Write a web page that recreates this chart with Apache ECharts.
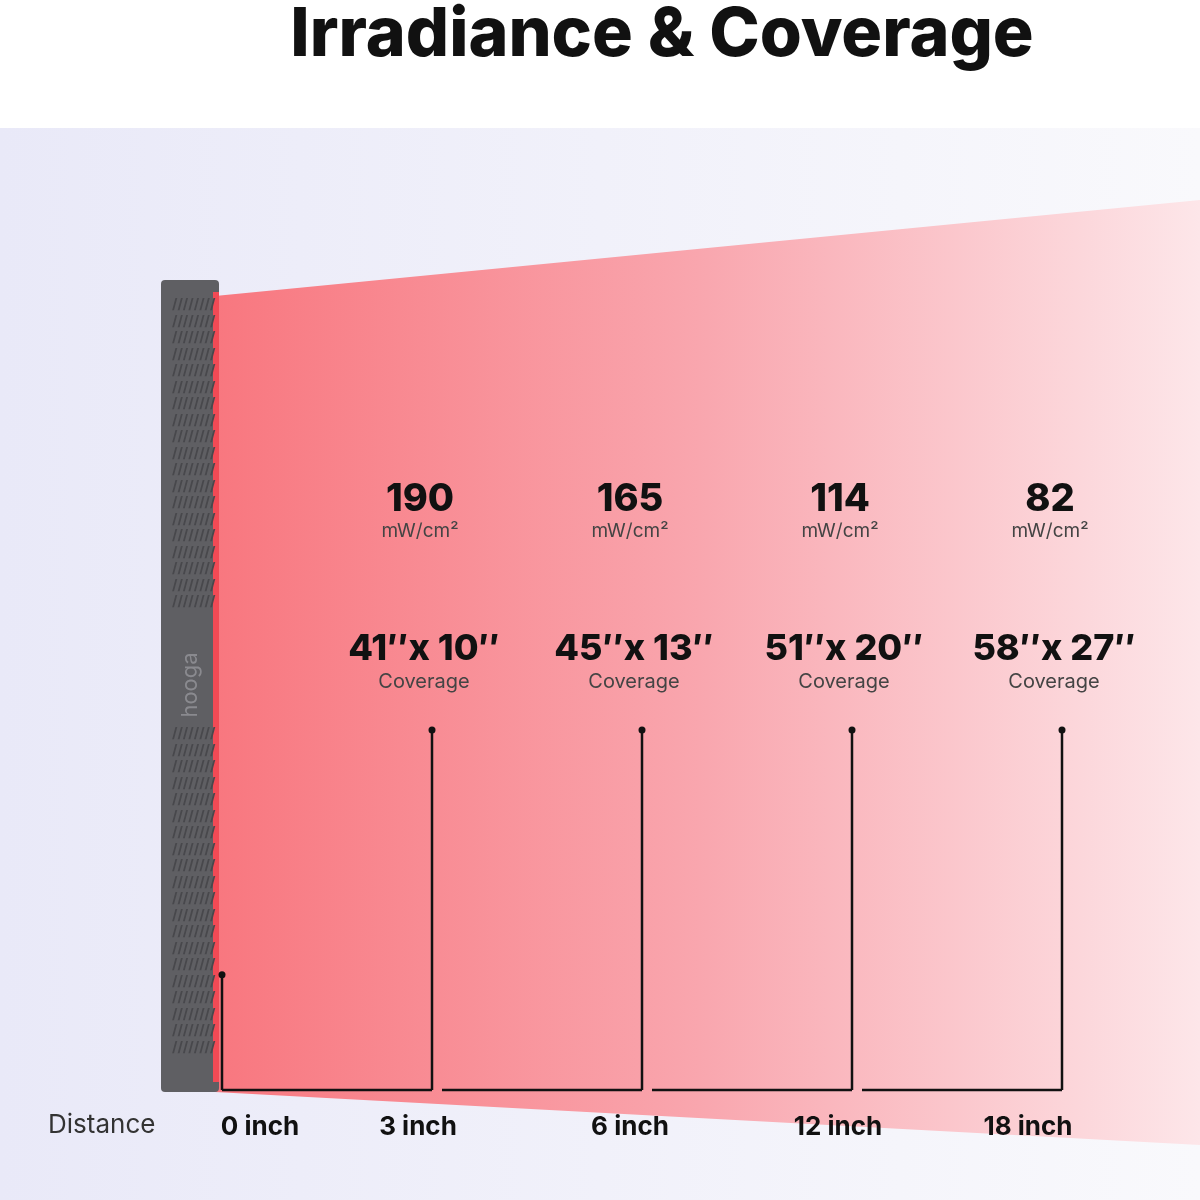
<!DOCTYPE html>
<html><head><meta charset="utf-8">
<script src="https://cdn.jsdelivr.net/npm/echarts@6/dist/echarts.min.js"></script>
<style>html,body{margin:0;padding:0;background:#fff}#c{width:1200px;height:1200px}</style>
</head><body><div id="c"></div>
<script>
// distances along the bottom
const distances = ['0 inch', '3 inch', '6 inch', '12 inch', '18 inch']
// irradiance, mW/cm²
const irradiance = [null, 190, 165, 114, 82]
// coverage area text
const coverage = ['', '41″x 10″', '45″x 13″', '51″x 20″', '58″x 27″']
// marker line height (hidden y scale 0..100)
const markerTop = [12, 37.5, 37.5, 37.5, 37.5]

const chart = echarts.init(document.getElementById('c'))
const FONT = 'Inter'

// label nudges (left, right padding) so labels sit as in the picture
const labelPad = [[76, 0], [0, 28], [0, 24], [0, 28], [0, 68]]
const labelRich = {}
labelPad.forEach((p, i) => {
  labelRich['l' + i] = { padding: [0, p[1], 0, p[0]], color: '#111', fontSize: 26, fontWeight: 700, fontFamily: FONT }
})

const devicePattern = []
for (let i = 0; i < 46; i++) {
  if (i >= 19 && i <= 25) continue
  devicePattern.push({
    type: 'text', z: 3, x: 172, y: 298 + i * 16.5,
    style: { text: '////////', fill: '#48484c', font: 'bold 14px ' + FONT }
  })
}

const option = {
  animation: false,
  grid: { left: 117, right: 33, top: 130, bottom: 110 },
  xAxis: {
    type: 'category', data: distances, boundaryGap: true, z: 30,
    axisLine: { show: false }, axisTick: { show: false },
    axisLabel: { margin: 24, rich: labelRich,
      formatter: (v, i) => '{l' + i + '|' + v + '}' }
  },
  yAxis: { type: 'value', min: 0, max: 100, show: false },
  graphic: [
    { type: 'rect', z: 0, shape: { x: 0, y: 128, width: 1200, height: 1072 },
      style: { fill: new echarts.graphic.LinearGradient(0, 0, 1, 0, [
        { offset: 0, color: '#e9e9f8' }, { offset: 1, color: '#f9f9fc' }]) } },
    { type: 'polygon', z: 1, shape: { points: [[215, 296], [1200, 200], [1200, 1145], [215, 1092]] },
      style: { fill: new echarts.graphic.LinearGradient(0, 0, 1, 0, [
        { offset: 0, color: '#f8777f' }, { offset: 0.5, color: '#f9a7af' },
        { offset: 1, color: '#fde6e9' }]) } },
    { type: 'rect', z: 2, shape: { x: 161, y: 280, width: 58, height: 812, r: 4 },
      style: { fill: '#5f5f63' } },
    { type: 'rect', z: 2, shape: { x: 213, y: 292, width: 6, height: 790 },
      style: { fill: '#f24a55' } },
    { type: 'text', z: 3, x: 190, y: 685, rotation: Math.PI / 2, origin: [0, 0],
      style: { text: 'hooga', fill: '#8a8a8f', font: '22px ' + FONT, align: 'center', verticalAlign: 'middle' } },
    ...devicePattern,
    { type: 'text', z: 3, x: 662, y: 36,
      style: { text: 'Irradiance & Coverage', fill: '#111', font: '800 68px ' + FONT, align: 'center', verticalAlign: 'middle' } },
    { type: 'text', z: 3, x: 48, y: 1112,
      style: { text: 'Distance', fill: '#333', font: '26px ' + FONT } }
  ],
  series: [{
    type: 'custom', z: 10,
    data: distances.map((d, i) => [i, markerTop[i]]),
    renderItem: (params, api) => {
      const i = api.value(0)
      const top = api.coord([i, api.value(1)])
      const base = api.coord([i, 0])
      const kids = [
        { type: 'line', shape: { x1: top[0], y1: top[1], x2: base[0], y2: base[1] },
          style: { stroke: '#111', lineWidth: 2.5 } },
        { type: 'circle', shape: { cx: top[0], cy: top[1], r: 3.5 }, style: { fill: '#111' } }
      ]
      if (i > 0) {
        const prev = api.coord([i - 1, 0])
        kids.push({ type: 'line', shape: { x1: prev[0] + (i > 1 ? 10 : 0), y1: base[1], x2: base[0], y2: base[1] },
          style: { stroke: '#111', lineWidth: 2.5 } })
        const irr = api.coord([i, 61.5])
        const cov = api.coord([i, 46])
        kids.push(
          { type: 'text', style: { text: String(irradiance[i]), x: irr[0] - 12, y: irr[1], align: 'center', verticalAlign: 'middle', fill: '#111', font: '800 38px ' + FONT } },
          { type: 'text', style: { text: 'mW/cm²', x: irr[0] - 12, y: irr[1] + 32, align: 'center', verticalAlign: 'middle', fill: '#444', font: '19px ' + FONT } },
          { type: 'text', style: { text: coverage[i], x: cov[0] - 8, y: cov[1] + 1, align: 'center', verticalAlign: 'middle', fill: '#111', font: '800 36px ' + FONT } },
          { type: 'text', style: { text: 'Coverage', x: cov[0] - 8, y: cov[1] + 34, align: 'center', verticalAlign: 'middle', fill: '#444', font: '20px ' + FONT } }
        )
      }
      return { type: 'group', children: kids }
    }
  }]
}
chart.setOption(option)
</script>
</body></html>
